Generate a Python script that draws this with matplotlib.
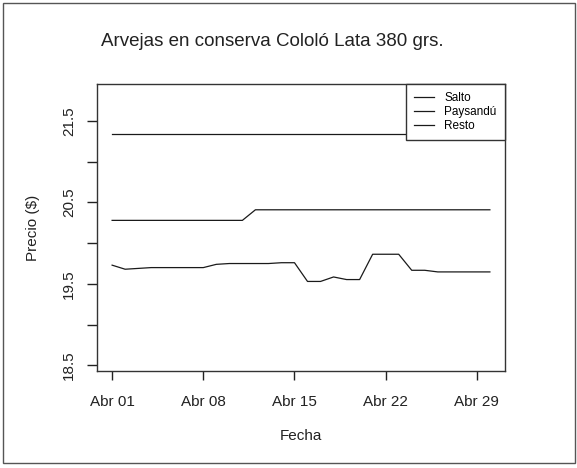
import matplotlib
matplotlib.use("Agg")
import matplotlib.pyplot as plt
import numpy as np
from matplotlib import rc
from matplotlib.patches import Rectangle

rc('font', family=['Liberation Sans', 'DejaVu Sans'])

# days of April (index 0 = Abr 01)
dias = np.arange(30)

salto = [21.34] * 30

paysandu = [20.28, 20.28, 20.28, 20.28, 20.28, 20.28, 20.28, 20.28, 20.28, 20.28,
            20.28, 20.41, 20.41, 20.41, 20.41, 20.41, 20.41, 20.41, 20.41, 20.41,
            20.41, 20.41, 20.41, 20.41, 20.41, 20.41, 20.41, 20.41, 20.41, 20.41]

resto = [19.73, 19.68, 19.69, 19.70, 19.70, 19.70, 19.70, 19.70, 19.74, 19.75,
         19.75, 19.75, 19.75, 19.76, 19.76, 19.53, 19.53, 19.585, 19.553, 19.553,
         19.864, 19.864, 19.864, 19.667, 19.667, 19.647, 19.647, 19.647, 19.647, 19.647]

xticks = [0, 7, 14, 21, 28]
xlabels = ['Abr 01', 'Abr 08', 'Abr 15', 'Abr 22', 'Abr 29']
yticks = np.arange(18.5, 21.51, 0.5)
ylabels = ['18.5', '', '19.5', '', '20.5', '', '21.5']

fig = plt.figure(figsize=(5.77, 4.68), dpi=100)
ax = fig.add_axes([97/577, 1 - 371/468, 408/577, 287/468])

lc = '#1a1a1a'
ax.plot(dias, salto, color=lc, lw=0.9, label='Salto')
ax.plot(dias, paysandu, color=lc, lw=0.9, label='Paysandú')
ax.plot(dias, resto, color=lc, lw=0.9, label='Resto')

ax.set_xlim(-1.16, 30.16)
ax.set_ylim(18.43, 21.955)

ax.set_xticks(xticks)
ax.set_xticklabels(xlabels)
ax.set_yticks(yticks)
ax.set_yticklabels(ylabels, rotation=90, va='center')

ax.tick_params(axis='x', direction='out', length=6.5, width=1, pad=11,
               labelsize=11, colors='#222222')
ax.tick_params(axis='y', direction='out', length=7, width=1, pad=8,
               labelsize=11, colors='#222222')
for s in ax.spines.values():
    s.set_color('#333333')
    s.set_linewidth(1)

ax.set_xlabel('Fecha', fontsize=11, color='#222222', labelpad=14)
ax.set_ylabel('Precio ($)', fontsize=11, color='#222222', labelpad=16)
fig.text(272/577, 1 - 41/468, 'Arvejas en conserva Cololó Lata 380 grs.',
         ha='center', va='center', fontsize=13.5, color='#222222')

leg = ax.legend(loc='upper right', borderaxespad=0, fontsize=8.5,
                frameon=True, fancybox=False, edgecolor='#333333',
                borderpad=0.7, handlelength=1.7, handletextpad=0.85,
                labelspacing=0.15)
leg.get_frame().set_linewidth(1)
leg.get_frame().set_alpha(None)

# scanned page frame
fig.patches.append(Rectangle((3/577, 5/468), 572/577, 460/468, fill=False,
                             edgecolor='#555555', lw=1,
                             transform=fig.transFigure, figure=fig))

plt.savefig('out.png', dpi=100)
